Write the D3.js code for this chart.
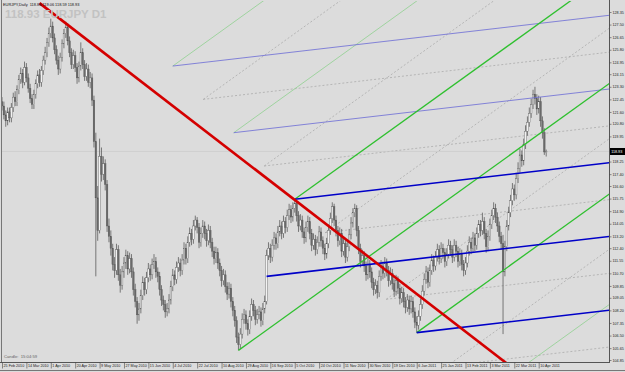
<!DOCTYPE html>
<html><head><meta charset="utf-8">
<script src="https://cdn.jsdelivr.net/npm/d3@7"></script>
<style>body{margin:0;background:#dcdcdc}svg{display:block}</style></head>
<body><svg id="c" width="625" height="372"></svg>
<script>
const opens=[122.3,122.0,121.4,121.0,121.6,121.2,121.9,122.6,122.3,123.1,
123.8,124.2,123.6,124.6,123.9,123.2,122.5,122.1,122.8,123.5,
124.1,123.6,124.4,125.1,125.6,126.3,126.9,127.4,126.6,125.8,
125.1,124.5,125.3,126.2,126.9,127.3,126.4,125.6,124.8,125.4,
124.6,123.9,124.7,125.6,124.8,124.0,124.5,123.6,123.9,122.4,
119.6,115.8,113.6,118.6,117.4,118.1,116.7,113.9,113.2,112.4,
111.3,110.9,112.3,110.6,109.9,110.8,111.4,111.9,111.0,111.7,
110.8,109.6,108.8,107.9,108.3,109.2,110.1,109.6,110.4,111.0,
110.6,111.3,111.5,110.8,110.5,109.6,108.9,108.6,108.1,108.3,
108.9,109.8,110.6,110.3,111.1,111.4,110.9,111.6,112.4,111.7,
112.8,113.4,113.0,113.9,114.3,113.8,112.8,113.4,113.9,113.4,
112.9,113.6,112.8,112.2,111.7,112.1,111.4,110.9,110.2,110.6,
109.8,109.3,109.7,108.8,108.2,107.5,106.4,105.9,106.6,107.6,
107.9,107.3,106.9,107.8,108.6,108.2,107.6,107.9,108.1,107.5,
108.3,108.8,111.9,112.4,111.8,112.6,113.1,112.7,113.5,113.9,
113.4,114.2,113.8,114.6,115.0,114.5,115.1,115.4,114.6,113.9,
114.3,113.5,113.1,113.8,114.2,113.4,112.6,113.0,112.3,112.8,
113.5,112.9,112.4,112.0,112.7,113.6,114.4,115.2,114.3,113.6,
112.9,113.4,112.2,112.7,111.8,112.5,113.3,114.1,114.8,115.1,
113.6,112.4,111.5,111.9,111.2,110.6,111.3,110.8,110.1,109.6,
109.9,109.4,110.5,111.2,110.7,111.4,110.9,110.2,110.7,110.0,
109.5,110.2,109.7,109.0,109.4,108.8,108.4,108.9,108.3,108.8,
108.1,107.4,107.2,107.8,108.6,109.5,110.3,110.8,110.1,110.9,
111.6,111.2,111.8,112.3,111.7,112.4,112.1,111.5,112.0,112.6,
112.3,111.8,112.6,112.2,111.5,112.0,111.3,110.9,111.4,112.2,
112.8,112.4,113.1,112.6,113.4,114.0,113.6,114.2,113.4,112.5,
113.2,114.0,114.6,115.1,114.5,113.9,113.2,112.7,110.8,112.5,
113.9,114.8,115.6,116.4,116.0,117.1,117.8,118.7,118.3,119.4,
120.3,120.9,121.5,122.1,122.8,122.5,121.8,122.3,121.0,120.2,
118.86];
const highs=[122.6,122.3,121.7,121.9,121.9,122.2,122.9,123.0,123.4,124.1,
124.6,124.5,125.0,124.9,124.2,123.5,122.8,123.1,123.8,124.4,
124.5,124.7,125.4,126.0,126.6,127.3,127.9,127.7,126.9,126.1,
125.4,125.6,126.5,127.2,127.7,127.6,126.7,125.9,125.8,125.7,
124.9,125.0,126.3,125.9,125.1,124.9,124.8,124.3,124.2,122.7,
120.2,116.6,119.8,119.2,118.6,118.4,117.0,114.4,113.6,112.7,
111.8,112.7,112.6,111.0,111.2,111.8,112.3,112.2,112.1,112.0,
111.1,110.0,109.1,108.7,109.6,110.5,110.4,110.8,111.4,111.3,
111.7,112.0,111.8,111.1,110.8,109.9,109.2,108.9,108.7,109.3,
110.2,111.0,110.9,111.5,111.8,111.7,112.0,112.8,112.7,113.2,
113.8,113.7,114.3,114.6,114.5,114.1,113.8,114.3,114.2,113.7,
114.0,113.9,113.1,112.5,112.5,112.4,111.7,111.2,111.0,110.9,
110.1,110.1,110.0,109.1,108.5,107.8,106.7,107.0,108.0,108.3,
108.2,107.6,108.2,109.0,108.9,108.5,108.3,108.5,108.4,108.7,
109.2,112.3,112.8,112.7,113.0,113.5,113.4,113.9,114.3,114.2,
114.6,114.5,115.0,115.4,115.3,115.5,115.7,115.6,114.9,114.7,
114.6,113.8,114.2,114.6,114.5,113.7,113.4,113.3,113.2,113.9,
113.8,113.2,112.7,113.1,114.0,114.8,115.5,115.4,114.6,113.9,
113.8,113.7,113.1,113.0,112.9,113.7,114.5,115.1,115.4,115.3,
113.9,112.7,112.3,112.2,111.5,111.7,111.6,111.1,110.4,110.3,
110.2,110.9,111.6,111.5,111.8,111.7,111.2,111.1,111.0,110.3,
110.6,110.5,110.0,109.8,109.7,109.1,109.3,109.2,109.2,109.1,
108.4,107.8,108.2,109.0,109.9,110.7,111.2,111.1,111.3,112.0,
111.9,112.2,112.7,112.6,112.8,112.7,112.4,112.4,113.0,112.9,
112.6,113.0,112.9,112.5,112.4,112.3,111.6,111.8,112.6,113.2,
113.1,113.5,113.4,113.8,114.3,114.3,114.8,114.5,113.7,113.6,
114.4,115.0,115.5,115.4,114.8,114.2,113.5,113.3,112.9,114.3,
115.2,116.0,116.8,116.7,117.5,118.2,119.1,119.0,119.8,120.7,
121.3,121.9,122.5,123.1,123.3,122.8,122.7,122.6,121.3,120.5,
119.06];
const lows=[121.7,121.1,120.6,120.7,120.9,120.9,121.6,122.0,122.0,122.8,
123.5,123.2,123.4,123.6,122.9,122.2,121.8,121.8,122.5,123.2,
123.3,123.3,124.1,124.8,125.3,126.0,126.6,126.3,125.5,124.8,
124.1,124.2,125.0,125.9,126.6,126.1,125.3,124.5,124.5,124.3,
123.5,123.6,124.4,124.5,123.7,123.7,123.3,123.2,122.0,119.2,
110.5,112.9,113.4,116.9,117.0,116.3,113.5,112.8,111.9,110.9,
110.4,110.6,110.2,109.4,109.6,110.4,111.0,110.6,110.7,110.4,
109.2,108.4,107.3,107.5,108.0,108.9,109.2,109.3,110.1,110.2,
110.3,111.0,110.4,110.1,109.2,108.5,108.2,107.7,107.8,108.0,
108.6,109.5,109.9,110.0,110.8,110.5,110.6,111.3,111.3,111.4,
112.5,112.6,112.7,113.6,113.4,112.4,112.5,113.1,113.0,112.5,
112.6,112.4,111.8,111.3,111.4,111.0,110.5,109.8,109.9,109.4,
108.9,109.0,108.4,107.8,107.1,106.0,105.5,105.6,106.3,107.3,
106.9,106.5,106.6,107.5,107.8,107.2,107.3,107.6,107.1,107.2,
108.0,108.6,111.6,111.4,111.5,112.3,112.3,112.4,113.2,113.0,
113.1,113.4,113.5,114.3,114.1,114.2,114.8,114.2,113.5,113.6,
113.1,112.7,112.8,113.5,113.0,112.2,112.3,111.9,112.0,112.5,
112.5,112.0,111.6,111.7,112.4,113.3,114.1,113.9,113.2,112.5,
112.6,111.8,111.9,111.4,111.5,112.2,113.0,113.8,114.5,113.2,
112.0,111.1,111.2,110.8,110.2,110.3,110.4,109.7,109.2,109.3,
109.0,109.1,110.2,110.3,110.4,110.5,109.8,109.9,109.6,109.1,
109.2,109.3,108.6,108.7,108.4,108.0,108.1,107.9,108.0,107.7,
107.0,106.7,106.9,107.5,108.3,109.2,110.0,109.7,109.8,110.6,
110.8,110.9,111.5,111.3,111.4,111.7,111.1,111.2,111.7,111.9,
111.4,111.5,111.8,111.1,111.2,110.9,110.5,110.6,111.1,111.9,
112.0,112.1,112.2,112.3,113.1,113.2,113.3,113.0,112.1,112.2,
112.9,113.7,114.3,114.1,113.5,112.8,112.3,106.6,110.5,112.2,
113.6,114.5,115.3,115.6,115.7,116.8,117.5,117.9,118.0,119.1,
120.0,120.6,121.2,121.8,122.1,121.4,121.5,120.6,119.8,118.7,
118.59];
const closes=[122.0,121.4,121.0,121.6,121.2,121.9,122.6,122.3,123.1,123.8,
124.2,123.6,124.6,123.9,123.2,122.5,122.1,122.8,123.5,124.1,
123.6,124.4,125.1,125.6,126.3,126.9,127.4,126.6,125.8,125.1,
124.5,125.3,126.2,126.9,127.3,126.4,125.6,124.8,125.4,124.6,
123.9,124.7,125.6,124.8,124.0,124.5,123.6,123.9,122.4,119.6,
115.8,113.6,118.6,117.4,118.1,116.7,113.9,113.2,112.4,111.3,
110.9,112.3,110.6,109.9,110.8,111.4,111.9,111.0,111.7,110.8,
109.6,108.8,107.9,108.3,109.2,110.1,109.6,110.4,111.0,110.6,
111.3,111.5,110.8,110.5,109.6,108.9,108.6,108.1,108.3,108.9,
109.8,110.6,110.3,111.1,111.4,110.9,111.6,112.4,111.7,112.8,
113.4,113.0,113.9,114.3,113.8,112.8,113.4,113.9,113.4,112.9,
113.6,112.8,112.2,111.7,112.1,111.4,110.9,110.2,110.6,109.8,
109.3,109.7,108.8,108.2,107.5,106.4,105.9,106.6,107.6,107.9,
107.3,106.9,107.8,108.6,108.2,107.6,107.9,108.1,107.5,108.3,
108.8,111.9,112.4,111.8,112.6,113.1,112.7,113.5,113.9,113.4,
114.2,113.8,114.6,115.0,114.5,115.1,115.4,114.6,113.9,114.3,
113.5,113.1,113.8,114.2,113.4,112.6,113.0,112.3,112.8,113.5,
112.9,112.4,112.0,112.7,113.6,114.4,115.2,114.3,113.6,112.9,
113.4,112.2,112.7,111.8,112.5,113.3,114.1,114.8,115.1,113.6,
112.4,111.5,111.9,111.2,110.6,111.3,110.8,110.1,109.6,109.9,
109.4,110.5,111.2,110.7,111.4,110.9,110.2,110.7,110.0,109.5,
110.2,109.7,109.0,109.4,108.8,108.4,108.9,108.3,108.8,108.1,
107.4,107.2,107.8,108.6,109.5,110.3,110.8,110.1,110.9,111.6,
111.2,111.8,112.3,111.7,112.4,112.1,111.5,112.0,112.6,112.3,
111.8,112.6,112.2,111.5,112.0,111.3,110.9,111.4,112.2,112.8,
112.4,113.1,112.6,113.4,114.0,113.6,114.2,113.4,112.5,113.2,
114.0,114.6,115.1,114.5,113.9,113.2,112.7,110.8,112.5,113.9,
114.8,115.6,116.4,116.0,117.1,117.8,118.7,118.3,119.4,120.3,
120.9,121.5,122.1,122.8,122.5,121.8,122.3,121.0,120.2,118.9,
118.93];

const yTicks=[128.35,127.50,126.65,125.80,124.95,124.15,123.30,122.45,121.60,120.80,119.95,118.25,117.40,116.60,115.75,114.90,114.05,113.20,112.40,111.55,110.70,109.85,109.05,108.20,107.35,106.50,105.65,104.85];
const xTickBars=[0,13,26,39,52,65,78,91,104,117,130,143,156,169,182,195,208,221,234,247,260,273,286];
const xTickLabels=["25 Feb 2010","14 Mar 2010","1 Apr 2010","20 Apr 2010","9 May 2010","27 May 2010","15 Jun 2010","4 Jul 2010","22 Jul 2010","10 Aug 2010","29 Aug 2010","16 Sep 2010","5 Oct 2010","24 Oct 2010","11 Nov 2010","30 Nov 2010","19 Dec 2010","6 Jan 2011","25 Jan 2011","13 Feb 2011","3 Mar 2011","22 Mar 2011","10 Apr 2011"];

const forkP2=[156,115.7];
const forkP3=[221,106.7];
const greenP1=[126,105.5];
const blueP1=[141,110.5];
const trendStart=[20,128.95];
const trendThrough=[156,115.66];
const tineOffsets=[0,1];
const warnOffsets=[-1,-0.5,1.5];
const dashOffsets=[-0.75,-0.25,0.25,0.75,1.25];
const lastPrice=118.93;
const titleText="EURJPY,Daily  118.86 119.06 118.59 118.93";
const bigText="118.93 EURJPY D1";
const candleText="Candle:  15:04:59";

const W=625,H=372;
const plot={l:2,t:1,r:609,b:362};
const FONT="Liberation Sans, Arial, sans-serif";
const svg=d3.select("#c");
svg.append("rect").attr("width",W).attr("height",H).attr("fill","#dcdcdc");
const x=d3.scaleLinear().domain([0,324]).range([2,610]);
const y=d3.scaleLinear().domain([104.85,128.35]).range([360,12]);

svg.append("clipPath").attr("id","clip").append("rect")
  .attr("x",plot.l).attr("y",plot.t).attr("width",plot.r-plot.l).attr("height",plot.b-plot.t);
const g=svg.append("g").attr("clip-path","url(#clip)");

svg.append("text").attr("x",5).attr("y",18).text(bigText)
  .attr("font-family",FONT).attr("font-weight","bold")
  .attr("font-size",11.5).attr("fill","#c2c2c2");

const iEnd=340;
const M=[(forkP2[0]+forkP3[0])/2,(forkP2[1]+forkP3[1])/2];
const slopeGreen=(M[1]-greenP1[1])/(M[0]-greenP1[0]);
const slopeBlue=(M[1]-blueP1[1])/(M[0]-blueP1[0]);
const startAt=f=>[forkP2[0]+f*(forkP3[0]-forkP2[0]), forkP2[1]+f*(forkP3[1]-forkP2[1])];
function ray(p,s){return {x1:x(p[0]),y1:y(p[1]),x2:x(iEnd),y2:y(p[1]+s*(iEnd-p[0]))};}
function drawLines(list,color,width,dash){
  g.selectAll(null).data(list).enter().append("line")
   .attr("x1",d=>d.x1).attr("y1",d=>d.y1).attr("x2",d=>d.x2).attr("y2",d=>d.y2)
   .attr("stroke",color).attr("stroke-width",width).attr("stroke-dasharray",dash||null);
}
drawLines(dashOffsets.map(f=>ray(startAt(f),slopeGreen)),"#9a9a9a",0.6,"2,2");
drawLines(dashOffsets.map(f=>ray(startAt(f),slopeBlue)),"#9a9a9a",0.6,"2,2");
g.append("line").attr("x1",plot.l).attr("x2",plot.r).attr("y1",y(lastPrice)).attr("y2",y(lastPrice))
  .attr("stroke","#c8c8c8").attr("stroke-width",0.6);

const idx=d3.range(closes.length);
g.selectAll(".wick").data(idx).enter().append("line")
  .attr("x1",i=>x(i)).attr("x2",i=>x(i)).attr("y1",i=>y(highs[i])).attr("y2",i=>y(lows[i]))
  .attr("stroke","#4a4a4a").attr("stroke-width",0.7);
g.selectAll(".body").data(idx).enter().append("rect")
  .attr("x",i=>x(i)-0.8).attr("width",1.6)
  .attr("y",i=>y(Math.max(opens[i],closes[i])))
  .attr("height",i=>Math.max(0.6,Math.abs(y(opens[i])-y(closes[i]))))
  .attr("fill",i=>closes[i]>=opens[i]?"#f2f2f2":"#6a6a6a").attr("stroke","#555").attr("stroke-width",0.35);

drawLines(warnOffsets.map(f=>ray(startAt(f),slopeGreen)),"#8fd08f",0.8);
drawLines(warnOffsets.map(f=>ray(startAt(f),slopeBlue)),"#6b6bd6",0.8);
drawLines(tineOffsets.map(f=>ray(startAt(f),slopeGreen)).concat([ray(greenP1,slopeGreen)]),"#2fc02f",1.3);
drawLines(tineOffsets.map(f=>ray(startAt(f),slopeBlue)).concat([ray(blueP1,slopeBlue)]),"#0000c8",1.6);
const slopeRed=(trendThrough[1]-trendStart[1])/(trendThrough[0]-trendStart[0]);
drawLines([ray(trendStart,slopeRed)],"#d40000",2.6);

svg.append("line").attr("x1",plot.r+0.5).attr("x2",plot.r+0.5).attr("y1",0).attr("y2",plot.b+1).attr("stroke","#555").attr("stroke-width",1);
svg.append("line").attr("x1",0).attr("x2",plot.r+1).attr("y1",plot.b+0.5).attr("y2",plot.b+0.5).attr("stroke","#555").attr("stroke-width",1);
svg.append("line").attr("x1",1.5).attr("x2",1.5).attr("y1",0).attr("y2",plot.b).attr("stroke","#777").attr("stroke-width",1);
svg.append("line").attr("x1",0).attr("x2",W).attr("y1",H-1.5).attr("y2",H-1.5).attr("stroke","#777").attr("stroke-width",1);

const yAxis=d3.axisRight(y).tickValues(yTicks).tickSize(2).tickPadding(1).tickFormat(d3.format(".2f"));
const ya=svg.append("g").attr("transform",`translate(${plot.r+0.5},0)`).call(yAxis);
ya.select(".domain").remove();
ya.selectAll("line").attr("stroke","#444").attr("stroke-width",0.6);
ya.selectAll("text").attr("font-size",3.7).attr("font-family",FONT).attr("fill","#222");

const xAxis=d3.axisBottom(x).tickValues(xTickBars).tickSize(6).tickPadding(0).tickFormat((d,k)=>xTickLabels[k]);
const xa=svg.append("g").attr("transform",`translate(0,${plot.b+0.5})`).call(xAxis);
xa.select(".domain").remove();
xa.selectAll("line").attr("stroke","#444").attr("stroke-width",0.6);
xa.selectAll("text").attr("text-anchor","start").attr("dx",1).attr("y",2.2)
  .attr("font-size",3.7).attr("font-family",FONT).attr("fill","#222");

svg.append("rect").attr("x",plot.r+1).attr("y",y(lastPrice)-3.5).attr("width",15).attr("height",7).attr("fill","#000");
svg.append("text").attr("x",plot.r+2.2).attr("y",y(lastPrice)+1.4).text(d3.format(".2f")(lastPrice))
  .attr("font-size",3.7).attr("font-family",FONT).attr("fill","#fff");

svg.append("text").attr("x",3).attr("y",6).text(titleText)
  .attr("font-size",3.9).attr("font-family",FONT).attr("fill","#111").attr("xml:space","preserve");
svg.append("text").attr("x",4).attr("y",358).text(candleText)
  .attr("font-size",4.2).attr("font-family",FONT).attr("fill","#666").attr("xml:space","preserve");
</script></body></html>
